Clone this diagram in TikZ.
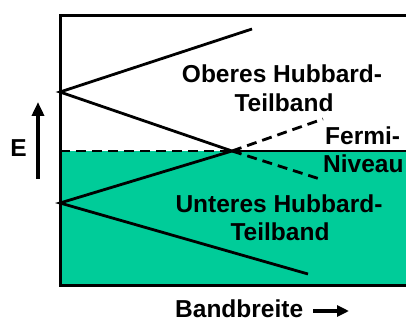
\documentclass[tikz,border=0pt]{standalone}
\usepackage{fontspec}
\setmainfont{Liberation Sans}
\usetikzlibrary{arrows.meta}
\definecolor{bandgreen}{RGB}{0,204,153}
\begin{document}
\begin{tikzpicture}[x=1pt,y=-1pt,
  lbl/.style={font=\bfseries\fontsize{24.5}{27}\selectfont, inner sep=0pt, anchor=base},
  bandline/.style={line width=2.8pt},
  dashline/.style={line width=2.8pt, dash pattern=on 10pt off 6pt}]
\useasboundingbox (0,0) rectangle (406,320);
\fill[bandgreen] (60,151) rectangle (406,285);
\draw[line width=3pt] (406,16) -- (60,16) -- (60,285) -- (406,285);
% coordinates
\coordinate (uv) at (60,92);
\coordinate (ut) at (252,29);
\coordinate (x) at (232,151);
\coordinate (ud) at (323,119);
\coordinate (lv) at (60,203);
\coordinate (lb) at (308,274);
\coordinate (ld) at (323,180);
\coordinate (fl) at (60,151);
\coordinate (fr) at (406,151);
\draw[dashline] (fl) -- (x);
\draw[bandline] (x) -- (fr);
\draw[bandline] (ut) -- (uv) -- (x) -- (lv) -- (lb);
\draw[dashline] (x) -- (ud);
\draw[dashline] (x) -- (ld);
% labels
\node[lbl] (ob) at (282,83) {Oberes Hubbard-};
\node[lbl] (ot) at (284,112) {Teilband};
\node[lbl, anchor=base west] (fe) at (325,145) {Fermi-};
\node[lbl, anchor=base west] (ni) at (323,173) {Niveau};
\node[lbl] (ub) at (279,212) {Unteres Hubbard-};
\node[lbl] (ut2) at (280,240) {Teilband};
\node[lbl] (E) at (18.5,157) {E};
\node[lbl, anchor=base west] (bb) at (175,317) {Bandbreite};
% arrows
\coordinate (ea) at (38,179);
\coordinate (eb) at (38,102);
\draw[line width=4pt, -{Triangle[length=14pt,width=12pt]}] (ea) -- (eb);
\coordinate (ba) at (313,311);
\coordinate (bt) at (349,311);
\draw[line width=4.5pt, -{Triangle[length=12pt,width=11pt]}] (ba) -- (bt);
\end{tikzpicture}
\end{document}
